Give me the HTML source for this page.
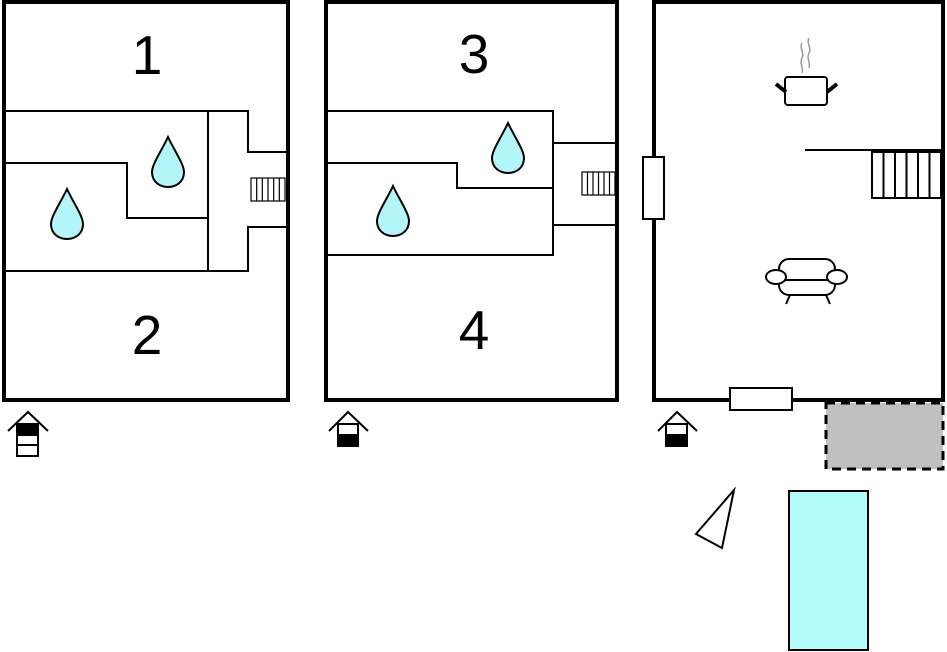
<!DOCTYPE html>
<html><head><meta charset="utf-8"><style>html,body{margin:0;padding:0;background:#fff}svg{display:block}</style></head>
<body>
<svg width="947" height="652" viewBox="0 0 947 652" xmlns="http://www.w3.org/2000/svg">
<defs>
<symbol id="drop" viewBox="-18 -28 36 56"><path d="M0,-25 C6,-12 16,2 16,10 C16,20 8,25 0,25 C-8,25 -16,20 -16,10 C-16,2 -6,-12 0,-25 Z" fill="#b3f5f8" stroke="#000" stroke-width="2"/></symbol>
</defs>
<g fill="none" stroke="#000">
<rect x="4" y="2" width="284" height="398" stroke-width="4"/>
<g stroke-width="2">
<polyline points="4,111 248,111 248,152 287,152"/>
<polyline points="4,271 248,271 248,227 287,227"/>
<line x1="208" y1="111" x2="208" y2="271"/>
<polyline points="4,163 127,163 127,218 208,218"/>
</g>
<g stroke-width="1.2"><rect x="251" y="178" width="34" height="23"/>
<line x1="256.7" y1="178" x2="256.7" y2="201"/><line x1="262.3" y1="178" x2="262.3" y2="201"/><line x1="268" y1="178" x2="268" y2="201"/><line x1="273.7" y1="178" x2="273.7" y2="201"/><line x1="279.3" y1="178" x2="279.3" y2="201"/></g>
<rect x="326" y="2" width="291" height="398" stroke-width="4"/>
<g stroke-width="2">
<polyline points="326,111 553,111 553,255 326,255"/>
<line x1="553" y1="143" x2="616" y2="143"/>
<line x1="553" y1="225" x2="616" y2="225"/>
<polyline points="326,163 457,163 457,188 553,188"/>
</g>
<g stroke-width="1.2"><rect x="582" y="172" width="33" height="23"/>
<line x1="587.5" y1="172" x2="587.5" y2="195"/><line x1="593" y1="172" x2="593" y2="195"/><line x1="598.5" y1="172" x2="598.5" y2="195"/><line x1="604" y1="172" x2="604" y2="195"/><line x1="609.5" y1="172" x2="609.5" y2="195"/></g>
<rect x="654" y="2" width="289" height="398" stroke-width="4"/>
<rect x="643" y="157" width="21" height="62" fill="#fff" stroke-width="2"/>
<rect x="730" y="388" width="62" height="22" fill="#fff" stroke-width="2"/>
<line x1="805" y1="150" x2="941" y2="150" stroke-width="2"/>
<g stroke-width="2"><rect x="872" y="152" width="69" height="46"/>
<line x1="883.5" y1="152" x2="883.5" y2="198"/><line x1="895" y1="152" x2="895" y2="198"/><line x1="906.5" y1="152" x2="906.5" y2="198"/><line x1="918" y1="152" x2="918" y2="198"/><line x1="929.5" y1="152" x2="929.5" y2="198"/></g>
<path d="M802,43 c-3,5 3,10 0,15 c-3,5 2,10 0,15 M809,38 c-3,5 3,10 0,15 c-3,5 2,10 0,15" stroke="#999" stroke-width="1.5"/>
<rect x="785" y="77" width="42" height="28" rx="3" stroke-width="2"/>
<line x1="776" y1="84" x2="786" y2="92" stroke-width="4"/>
<line x1="837" y1="84" x2="827" y2="92" stroke-width="4"/>
<g stroke-width="2"><rect x="779" y="259" width="56" height="36" rx="10" fill="#fff"/><line x1="784" y1="280" x2="830" y2="280"/><ellipse cx="776" cy="277" rx="10" ry="7" fill="#fff"/><ellipse cx="837" cy="277" rx="10" ry="7" fill="#fff"/><line x1="790" y1="295" x2="786" y2="304"/><line x1="826" y1="295" x2="830" y2="304"/></g>
<rect x="826" y="403" width="117" height="66" fill="#c0c0c0" stroke-width="3" stroke-dasharray="9,6"/>
<rect x="789" y="491" width="79" height="159" fill="#b3fcfc" stroke-width="2"/>
<polygon points="734,490 722,548 696,534" fill="#fff" stroke-width="2"/>
</g>
<use href="#drop" x="150" y="134" width="36" height="56"/>
<use href="#drop" x="49" y="186" width="36" height="56"/>
<use href="#drop" x="490" y="120" width="36" height="56"/>
<use href="#drop" x="375" y="183" width="36" height="56"/>
<g fill="none" stroke="#000" stroke-width="2">
<polyline points="8,431 28,412 48,431"/>
<rect x="17" y="424" width="21" height="32" fill="#fff"/><rect x="17" y="424" width="21" height="11" fill="#000"/><line x1="17" y1="445" x2="38" y2="445"/>
<polyline points="329,431 348,412 368,431"/>
<rect x="338" y="424" width="20" height="22" fill="#fff"/><rect x="338" y="435" width="20" height="11" fill="#000"/>
<polyline points="658,431 677,412 697,431"/>
<rect x="666" y="424" width="21" height="22" fill="#fff"/><rect x="666" y="435" width="21" height="11" fill="#000"/>
</g>
<g font-family="Liberation Sans, sans-serif" font-size="55" text-anchor="middle" fill="#000">
<text x="147" y="74">1</text><text x="147" y="354">2</text><text x="474" y="73">3</text><text x="474" y="349">4</text>
</g>
</svg>
</body></html>
